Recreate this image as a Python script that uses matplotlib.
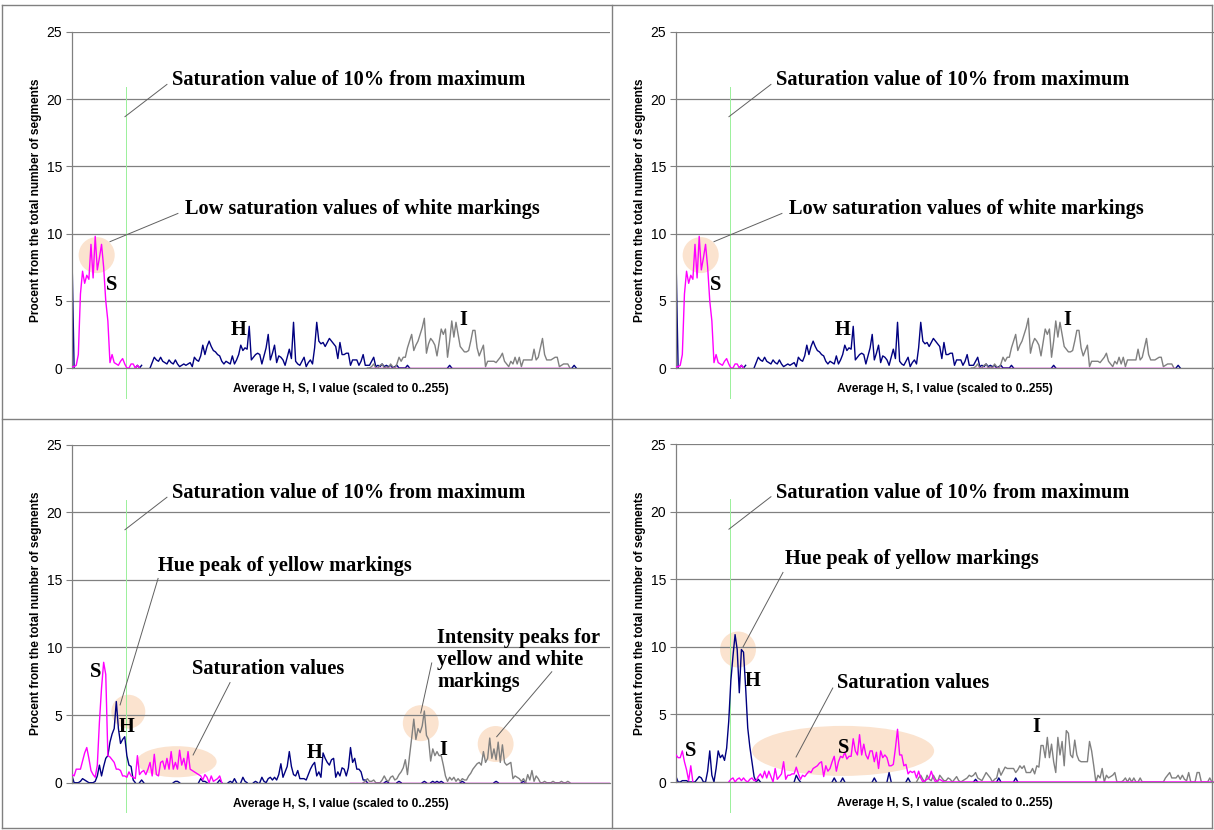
import numpy as np
import matplotlib
matplotlib.use("Agg")
import matplotlib.pyplot as plt
from matplotlib.patches import Ellipse
from matplotlib.lines import Line2D

SANS = "Liberation Sans"
SERIF = "Liberation Serif"
HUE_COLOR = "#000080"
SAT_COLOR = "#ff00ff"
INT_COLOR = "#808080"

# Each series is a list of (first bin, [percent for consecutive bins]) runs;
# bins left out of every run are empty in the histogram.

# -- top charts (white markings) --
TOP_HUE = [
    (0, [8.3, 0.0]),
    (30, [0.0, 0.2, 0.0, 0.2]),
    (37, [0.0, 0.4, 0.8, 0.6, 0.5, 0.8, 0.5, 0.4, 0.3, 0.6,
          0.4, 0.3, 0.6, 0.3, 0.1, 0.2, 0.3, 0.2, 0.3, 0.4,
          0.1, 0.8, 0.6, 0.5, 0.9, 1.7, 1.0, 1.6, 2.0, 1.6,
          1.3, 1.2, 1.0, 0.9, 0.5, 0.3, 0.5, 0.4, 0.3, 0.9,
          0.3, 0.6, 1.0, 1.7, 1.3, 1.5, 1.4, 3.1, 0.6, 0.8,
          1.0, 1.1, 1.0, 0.3, 0.9, 1.5, 2.5, 0.6, 1.1, 1.7,
          0.4, 0.9, 0.8, 0.6, 0.2, 0.8, 1.4, 0.7, 3.4, 0.5,
          0.3, 0.2, 0.5, 0.8, 0.1, 0.4, 0.6, 0.3, 1.5, 3.4,
          2.0, 1.8, 1.9, 1.6, 1.9, 2.2, 2.0, 1.8, 1.6, 0.7,
          1.9, 1.0, 1.0, 1.1, 1.1, 0.2, 0.6, 0.6, 0.6, 0.2,
          0.5, 1.0, 0.2, 0.2, 0.2, 0.5, 0.8, 0.1, 0.2, 0.1,
          0.3, 0.1, 0.2, 0.1, 0.2, 0.0, 0.1, 0.2, 0.0, 0.0,
          0.0, 0.0, 0.2, 0.0]),
    (178, [0.0, 0.2, 0.0]),
    (237, [0.0, 0.2, 0.0]),
]
TOP_SAT = [
    (0, [0.1, 0.1, 0.2, 1.0, 5.5, 7.2, 6.3, 6.9, 6.6, 9.2,
         6.7, 9.8, 7.3, 8.2, 9.2, 7.5, 5.0, 3.5, 0.4, 1.0,
         0.4, 0.3, 0.2, 0.5, 0.7, 0.3, 0.0, 0.0, 0.3, 0.3,
         0.0, 0.2, 0.0]),
    (142, [0, 0, 0, 0, 0, 0, 0, 0, 0, 0, 0, 0, 0, 0, 0, 0, 0, 0, 0, 0,
           0, 0, 0, 0, 0, 0, 0, 0, 0, 0, 0, 0, 0, 0, 0, 0, 0, 0, 0, 0,
           0, 0, 0, 0, 0, 0, 0, 0, 0, 0, 0, 0, 0, 0, 0, 0, 0, 0, 0, 0,
           0, 0, 0, 0, 0, 0, 0, 0, 0, 0, 0, 0, 0, 0, 0, 0, 0, 0, 0, 0,
           0, 0, 0, 0, 0, 0, 0, 0, 0, 0, 0, 0, 0, 0, 0]),
]
TOP_INT = [
    (140, [0.0, 0.0, 0.1, 0.3, 0.0, 0.0, 0.2, 0.3, 0.0, 0.1,
           0.0, 0.3, 0.1, 0.0, 0.3, 0.8, 0.5, 0.8, 0.8, 1.5,
           2.0, 2.5, 1.3, 1.7, 2.0, 2.5, 3.0, 3.7, 1.1, 1.8,
           2.2, 2.0, 1.7, 0.9, 1.9, 2.9, 2.5, 2.9, 0.8, 2.0,
           3.5, 2.3, 3.4, 2.5, 1.6, 1.4, 1.2, 1.2, 1.3, 2.0,
           2.8, 2.8, 1.5, 0.9, 1.3, 1.7, 0.1, 0.5, 0.5, 0.5,
           0.5, 0.4, 0.6, 0.8, 1.1, 0.5, 0.3, 0.1, 0.5, 0.3,
           0.8, 0.3, 0.8, 0.1, 0.6, 0.6, 0.6, 0.6, 0.6, 1.4,
           0.6, 0.8, 1.5, 2.2, 1.0, 0.6, 0.6, 0.6, 0.7, 0.8,
           0.8, 0.1, 0.2, 0.3, 0.3, 0.3, 0.0]),
]

# -- bottom left chart (yellow and white markings) --
BL_HUE = [
    (0, [0.5, 0.0, 0.0, 0.0, 0.1, 0.3, 0.2, 0.1, 0.0, 0.0,
         0.0, 0.1, 0.5, 1.3, 0.5, 1.2, 1.8, 2.0, 3.0, 3.6,
         4.0, 6.0, 4.0, 2.9, 3.2, 3.4, 2.0, 1.3, 1.2, 0.2,
         0.0]),
    (32, [0.0, 0.2, 0.0]),
    (48, [0.0, 0.1, 0.1, 0.0]),
    (60, [0.0, 0.3, 0.1, 0.1, 0.0]),
    (69, [0.0, 0.2, 0.0]),
    (74, [0.0, 0.1, 0.0, 0.3, 0.0]),
    (80, [0.0, 0.4, 0.1, 0.0]),
    (86, [0.0, 0.1, 0.0]),
    (89, [0.0, 0.4, 0.1, 0.0, 0.3, 0.4, 0.2, 0.4, 0.2, 0.6,
          1.4, 0.4, 0.8, 1.2, 2.3, 1.2, 0.6, 0.5, 0.9, 0.3,
          0.3, 0.3, 0.2, 0.6, 1.0, 1.3, 1.5, 0.5, 0.8, 0.4,
          2.2, 1.8, 1.5, 1.3, 1.7, 1.8, 0.4, 0.8, 0.5, 1.1,
          1.0, 0.5, 1.1, 2.6, 1.5, 1.8, 1.0, 1.0, 0.8, 0.2,
          0.2, 0.0]),
    (148, [0.0, 0.1, 0.0]),
    (154, [0.0, 0.1, 0.0]),
    (166, [0.0, 0.1, 0.0]),
    (170, [0.0, 0.1, 0.0, 0.1, 0.0, 0.1, 0.0]),
    (184, [0.0, 0.1, 0.0]),
    (200, [0.0, 0.1, 0.0]),
    (213, [0.0, 0.1, 0.0]),
]
BL_SAT = [
    (0, [0.6, 0.5, 1.0, 1.0, 1.0, 1.6, 2.2, 2.6, 1.8, 0.9,
         0.6, 0.4, 1.3, 4.5, 7.0, 8.9, 8.0, 2.0, 1.9, 1.7,
         1.5, 1.0, 1.0, 0.9, 0.5, 0.5, 0.4, 0.8, 0.5, 0.4,
         0.3, 2.0, 0.6, 0.8, 0.9, 0.6, 1.0, 1.5, 0.5, 2.1,
         0.6, 0.5, 1.5, 1.6, 1.0, 1.8, 1.0, 2.3, 1.0, 1.5,
         1.0, 2.4, 1.3, 1.8, 1.0, 2.3, 1.0, 0.9, 0.8, 0.7,
         0.6, 0.5, 0.2, 0.6, 0.4, 0.0, 0.5, 0.1, 0.2, 0.3,
         0.5, 0.0]),
    (132, [0, 0, 0, 0, 0, 0, 0, 0, 0, 0, 0, 0, 0, 0, 0, 0, 0, 0, 0, 0,
           0, 0, 0, 0, 0, 0, 0, 0, 0, 0, 0, 0, 0, 0, 0, 0, 0, 0, 0, 0,
           0, 0, 0, 0, 0, 0, 0, 0, 0, 0, 0, 0, 0, 0, 0, 0, 0, 0, 0, 0,
           0, 0, 0, 0, 0, 0, 0, 0, 0, 0, 0, 0, 0, 0, 0, 0, 0, 0, 0, 0,
           0, 0, 0, 0, 0, 0, 0, 0, 0, 0, 0, 0, 0, 0, 0, 0, 0, 0, 0, 0,
           0, 0, 0, 0, 0, 0, 0, 0, 0, 0, 0, 0, 0, 0, 0, 0, 0, 0, 0, 0,
           0, 0, 0, 0]),
]
BL_INT = [
    (138, [0.0, 0.1, 0.3, 0.1, 0.1, 0.2, 0.0, 0.0, 0.0, 0.2,
           0.5, 0.2, 0.1, 0.4, 0.5, 0.2, 0.3, 0.6, 0.8, 1.1,
           1.7, 0.6, 2.0, 3.3, 4.7, 3.2, 4.0, 3.7, 4.2, 5.3,
           3.5, 3.2, 1.6, 2.5, 2.0, 2.3, 2.0, 2.0, 1.3, 0.5,
           0.1, 0.4, 0.2, 0.4, 0.1, 0.3, 0.1, 0.3, 0.2, 0.2,
           0.5, 0.7, 1.0, 1.2, 1.4, 1.5, 1.3, 2.3, 1.5, 1.8,
           3.3, 1.8, 2.5, 1.7, 3.0, 1.5, 2.8, 1.5, 1.3, 1.4,
           1.5, 0.3, 0.5, 0.4, 0.3, 0.1, 0.3, 0.0, 0.6, 0.2,
           0.9, 0.1, 0.5, 0.3, 0.0, 0.0, 0.1, 0.0, 0.0, 0.0,
           0.1, 0.0, 0.0, 0.0, 0.1, 0.0, 0.0, 0.1, 0.0]),
]

# -- bottom right chart (yellow markings) --
BR_HUE = [
    (0, [0.4, 0.0, 0.0, 0.1, 0.1, 0.1, 0.0, 0.0, 0.0, 0.0,
         0.2, 0.4, 0.3, 0.0, 0.0, 0.8, 2.3, 0.5, 0.0, 1.0,
         2.3, 1.8, 2.0, 1.6, 2.5, 4.5, 7.5, 9.3, 10.9, 9.8,
         6.6, 9.8, 9.6, 7.0, 4.0, 2.6, 1.5, 0.4, 0.0, 0.2,
         0.0]),
    (56, [0.0, 0.5, 0.2, 0.0]),
    (74, [0.0, 0.3, 0.0]),
    (78, [0.0, 0.3, 0.0]),
    (93, [0.0, 0.3, 0.0]),
    (100, [0.0, 0.7, 0.0]),
    (109, [0.0, 0.3, 0.0]),
    (141, [0.0, 0.2, 0.0]),
    (152, [0.0, 0.3, 0.0]),
    (160, [0.0, 0.3, 0.0]),
]
BR_SAT = [
    (0, [2.0, 1.8, 1.8, 2.3, 1.5, 0.9, 0.1, 1.2, 0.0]),
    (25, [0.0, 0.2, 0.3, 0.0, 0.2, 0.3, 0.1, 0.3, 0.1, 0.0,
          0.2, 0.3, 0.1, 0.1, 0.4, 0.6, 0.3, 0.8, 0.3, 0.8,
          0.4, 0.0, 1.0, 0.2, 0.4, 0.6, 1.5, 0.2, 0.5, 0.5,
          0.6, 0.6, 1.1, 0.6, 0.2, 0.5, 0.4, 0.6, 0.8, 0.7,
          1.0, 1.1, 1.2, 1.4, 1.5, 0.4, 1.2, 0.8, 1.0, 1.5,
          1.9, 0.8, 1.5, 1.9, 1.8, 2.2, 1.7, 1.9, 1.9, 3.2,
          2.3, 2.0, 3.5, 2.0, 2.8, 2.0, 1.7, 2.3, 2.3, 1.5,
          2.2, 1.0, 2.3, 1.8, 2.0, 1.8, 1.2, 1.2, 1.3, 2.5,
          3.9, 2.0, 2.0, 1.2, 1.3, 0.6, 0.8, 0.7, 0.8, 0.3,
          0.8, 0.3, 0.0, 0.1, 0.2, 0.3, 0.8, 0.3, 0.0, 0.1,
          0.2, 0.1, 0.0, 0.0,
          0, 0, 0, 0, 0, 0, 0, 0, 0, 0, 0, 0, 0, 0, 0, 0, 0, 0, 0, 0,
          0, 0, 0, 0, 0, 0, 0, 0, 0, 0, 0, 0, 0, 0, 0, 0, 0, 0, 0, 0,
          0, 0, 0, 0, 0, 0, 0, 0, 0, 0, 0, 0, 0, 0, 0, 0, 0, 0, 0, 0,
          0, 0, 0, 0, 0, 0, 0, 0, 0, 0, 0, 0, 0, 0, 0, 0, 0, 0, 0, 0,
          0, 0, 0, 0, 0, 0, 0, 0, 0, 0, 0, 0, 0, 0, 0, 0, 0, 0, 0, 0,
          0, 0, 0, 0, 0, 0, 0, 0, 0, 0, 0, 0, 0, 0, 0, 0, 0, 0, 0, 0,
          0, 0, 0, 0, 0, 0, 0]),
]
BR_INT = [
    (114, [0.0, 0.3, 0.5, 0.2, 0.0, 0.5, 0.2, 0.1, 0.5, 0.2,
           0.0, 0.5, 0.3, 0.1, 0.1, 0.3, 0.2, 0.0, 0.2, 0.4,
           0.1, 0.0, 0.1, 0.2, 0.3, 0.5, 0.4, 0.5, 0.7, 0.3,
           0.2, 0.1, 0.4, 0.7, 0.5, 0.3, 0.0, 0.2, 0.3, 1.0,
           0.5, 0.8, 1.1, 1.0, 1.0, 1.0, 1.0, 0.7, 0.9, 1.2,
           1.0, 1.2, 0.7, 0.7, 0.7, 1.0, 0.6, 1.2, 1.1, 2.7,
           2.7, 1.8, 3.3, 1.8, 2.8, 1.5, 0.7, 3.3, 2.0, 3.0,
           1.2, 3.8, 3.6, 2.0, 1.8, 3.1, 2.0, 1.6, 1.5, 1.5,
           1.5, 1.5, 3.0, 2.3, 1.2, 0.0, 0.5, 0.3, 1.0, 0.0,
           0.5, 0.3, 0.4, 0.5, 0.7, 0.0, 0.0, 0.0, 0.1, 0.3,
           0.0, 0.3, 0.0, 0.3, 0.0, 0.0, 0.3, 0.0, 0.0, 0.0,
           0.0, 0.0, 0.0, 0.0, 0.0, 0.0, 0.0, 0.0, 0.3, 0.5,
           0.7, 0.3, 0.3, 0.3, 0.5, 0.2, 0.5, 0.2, 0.1, 0.7,
           0.0, 0.0, 0.0, 0.7, 0.7, 0.0, 0.0, 0.0, 0.0, 0.3,
           0.0]),
]

Y_LABEL = "Procent from the total number of segments"
X_LABEL = "Average H, S, I value (scaled to 0..255)"
SAT_LIMIT = 25.5   # 10% of 255


def draw_series(ax, runs, color, z):
    for start, vals in runs:
        x = np.arange(start, start + len(vals))
        ax.plot(x, vals, color=color, lw=1.0, zorder=z)


def note(ax, x, y, s, ha="left", **kw):
    ax.text(x, y, s, ha=ha, va="center", family=SERIF, weight="bold",
            fontsize=14.7, zorder=6, **kw)


def leader(ax, x0, y0, x1, y1):
    ax.plot([x0, x1], [y0, y1], color="#606060", lw=0.7, clip_on=False, zorder=5)


def blob(ax, x, y, w, h):
    ax.add_patch(Ellipse((x, y), w, h, facecolor="#fbe3cf", edgecolor="none",
                         zorder=0.2, clip_on=False))


def setup(ax):
    ax.set_xlim(0, 255)
    ax.set_ylim(0, 25)
    ax.set_xticks([])
    ax.set_yticks(range(0, 26, 5))
    ax.grid(axis="y", color="#808080", lw=0.9)
    ax.set_axisbelow(True)
    ax.patch.set_alpha(0)
    for s in ("top", "right"):
        ax.spines[s].set_visible(False)
    for s in ("left", "bottom"):
        ax.spines[s].set_color("#808080")
        ax.spines[s].set_linewidth(0.9)
    ax.tick_params(axis="y", length=4, width=0.8, color="#808080",
                   labelsize=10, pad=3)
    for t in ax.get_yticklabels():
        t.set_fontfamily(SANS)
    ax.text(-0.067, 0.5, Y_LABEL, transform=ax.transAxes, rotation=90,
            ha="center", va="center", family=SANS, weight="bold", fontsize=8.6)
    ax.text(0.5, -0.0625, X_LABEL, transform=ax.transAxes,
            ha="center", va="center", family=SANS, weight="bold", fontsize=8.6)
    # 10 % saturation threshold
    ax.plot([SAT_LIMIT, SAT_LIMIT], [-2.2, 20.9], color="#9af09a", lw=0.7,
            clip_on=False, zorder=1.8)
    note(ax, 47.4, 21.4, "Saturation value of 10% from maximum")
    leader(ax, 25.1, 18.7, 45.0, 21.1)


def draw(ax, hue, sat, inten):
    setup(ax)
    draw_series(ax, hue, HUE_COLOR, 2)
    draw_series(ax, inten, INT_COLOR, 3)
    draw_series(ax, sat, SAT_COLOR, 4)


fig = plt.figure(figsize=(12.14, 8.30), dpi=100)
W, H = 1214.0, 830.0


def panel(left, top, bottom):
    return fig.add_axes([left / W, 1 - bottom / H, 538 / W, (bottom - top) / H])


# top charts share the same data
for left in (72, 676):
    ax = panel(left, 32, 368)
    draw(ax, TOP_HUE, TOP_SAT, TOP_INT)
    blob(ax, 11.7, 8.4, 17.1, 2.68)
    leader(ax, 18.0, 9.4, 50.2, 11.5)
    note(ax, 53.6, 11.8, "Low saturation values of white markings")
    note(ax, 19.0, 6.2, "S", ha="center")
    note(ax, 78.8, 2.8, "H", ha="center")
    note(ax, 185.5, 3.6, "I", ha="center")

# bottom left
ax = panel(72, 444.5, 782.7)
draw(ax, BL_HUE, BL_SAT, BL_INT)
note(ax, 40.8, 16.0, "Hue peak of yellow markings")
blob(ax, 26.7, 5.25, 16.1, 2.5)
leader(ax, 22.8, 5.75, 40.8, 15.1)
note(ax, 11.2, 8.15, "S", ha="center")
note(ax, 25.9, 4.1, "H", ha="center")
note(ax, 56.9, 8.4, "Saturation values")
blob(ax, 49.6, 1.55, 37.9, 2.3)
leader(ax, 57.4, 2.05, 74.9, 7.4)
note(ax, 115.2, 2.2, "H", ha="center")
note(ax, 173.0, 9.07, "Intensity peaks for\nyellow and white\nmarkings",
     linespacing=1.14)
blob(ax, 165.3, 4.4, 17.0, 2.66)
leader(ax, 165.3, 5.15, 170.5, 8.85)
blob(ax, 200.8, 2.86, 17.0, 2.66)
leader(ax, 201.3, 3.4, 227.4, 8.2)
note(ax, 175.9, 2.4, "I", ha="center")

# bottom right
ax = panel(676, 444, 782)
draw(ax, BR_HUE, BR_SAT, BR_INT)
note(ax, 51.7, 16.5, "Hue peak of yellow markings")
blob(ax, 29.4, 9.8, 17.0, 2.66)
leader(ax, 31.8, 10.0, 50.7, 15.5)
note(ax, 36.5, 7.5, "H", ha="center")
note(ax, 76.2, 7.3, "Saturation values")
blob(ax, 79.2, 2.3, 86.3, 3.7)
leader(ax, 56.9, 1.85, 74.3, 6.95)
note(ax, 79.6, 2.5, "S", ha="center")
note(ax, 7.0, 2.3, "S", ha="center")
note(ax, 171.0, 4.1, "I", ha="center")

# panel frames
frame = dict(color="#808080", lw=1.0)
for xs, ys in [((2, 1212), (5, 5)), ((2, 1212), (828, 828)), ((2, 2), (5, 828)),
               ((1212, 1212), (5, 828)), ((612, 612), (5, 828)), ((2, 1212), (419, 419))]:
    fig.add_artist(Line2D([x / W for x in xs], [1 - y / H for y in ys], **frame))

fig.savefig("out.png", dpi=100)
